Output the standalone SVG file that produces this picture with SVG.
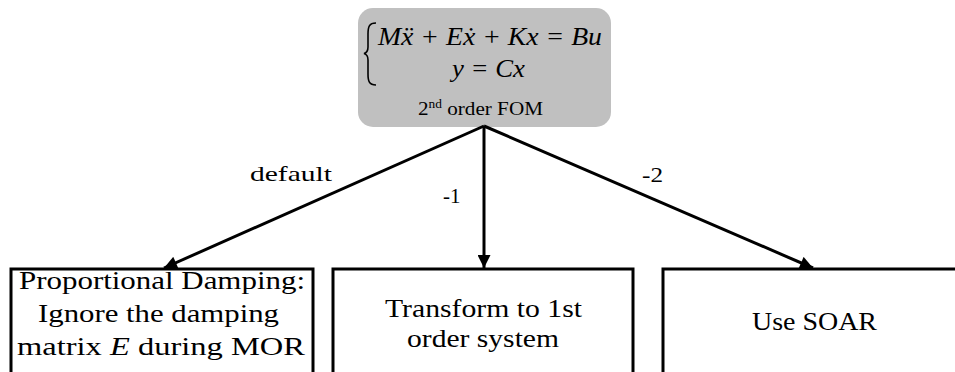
<svg xmlns="http://www.w3.org/2000/svg" width="955" height="372" viewBox="0 0 955 372">
  <style>
    .box { fill: #ffffff; stroke: #000000; stroke-width: 3; }
    .fom { fill: #c0c0c0; stroke: none; }
    .txt { font-family: "Liberation Serif", "Times New Roman", serif; fill: #000000; text-anchor: middle; font-size: 25px; }
    .lbl { font-family: "Liberation Serif", "Times New Roman", serif; fill: #000000; font-size: 21px; }
    .math { font-family: "Liberation Serif", "Times New Roman", serif; font-style: italic; fill: #000000; font-size: 25px; }
    .edge { stroke: #000000; stroke-width: 3; fill: none; marker-end: url(#arrow); }
  </style>
  <defs>
    <marker id="arrow" viewBox="0 0 10 10" refX="10" refY="5" markerUnits="userSpaceOnUse" markerWidth="15" markerHeight="13" orient="auto">
      <path d="M0,0 L10,5 L0,10 z" fill="#000000"/>
    </marker>
  </defs>
  <rect width="955" height="372" fill="#ffffff"/>

  <!-- second order full order model -->
  <g id="fom">
    <rect class="fom" x="358" y="8" width="253" height="119" rx="15" ry="15"/>
    <path d="M376,23 C369,23 368,27 368,34 L368,47 C368,51 366,53 364,53.5 C366,54 368,56 368,60 L368,74 C368,81 369,85 376,85" fill="none" stroke="#000" stroke-width="1.6"/>
    <text class="math" x="378" y="45" textLength="224" lengthAdjust="spacingAndGlyphs">Mẍ + Eẋ + Kx = Bu</text>
    <text class="math" x="452" y="77" textLength="73" lengthAdjust="spacingAndGlyphs">y = Cx</text>
    <text x="418" y="115" font-family="Liberation Serif, serif" font-size="19" fill="#000" textLength="125" lengthAdjust="spacingAndGlyphs">2<tspan font-size="12" dy="-7">nd</tspan><tspan dy="7"> order FOM</tspan></text>
  </g>

  <!-- branches -->
  <g id="connectors">
    <line class="edge" x1="484" y1="126" x2="164" y2="268"/>
    <line class="edge" x1="484" y1="126" x2="484" y2="268"/>
    <line class="edge" x1="484" y1="126" x2="813" y2="268"/>
    <text class="lbl" x="250" y="181" textLength="82" lengthAdjust="spacingAndGlyphs">default</text>
    <text class="lbl" x="443" y="203">-1</text>
    <text class="lbl" x="642" y="182" textLength="21" lengthAdjust="spacingAndGlyphs">-2</text>
  </g>

  <g id="proportional">
    <rect class="box" x="11" y="269" width="302" height="140"/>
    <text class="txt" x="162" y="289" textLength="286" lengthAdjust="spacingAndGlyphs">Proportional Damping:</text>
    <text class="txt" x="158.5" y="322" textLength="241" lengthAdjust="spacingAndGlyphs">Ignore the damping</text>
    <text class="txt" x="161" y="355" textLength="288" lengthAdjust="spacingAndGlyphs">matrix <tspan font-style="italic">E</tspan> during MOR</text>
  </g>

  <g id="first-order">
    <rect class="box" x="333" y="269" width="300" height="140"/>
    <text class="txt" x="483.5" y="317" textLength="197" lengthAdjust="spacingAndGlyphs">Transform to 1st</text>
    <text class="txt" x="483" y="347" textLength="152" lengthAdjust="spacingAndGlyphs">order system</text>
  </g>

  <g id="soar">
    <rect class="box" x="663" y="269" width="320" height="140"/>
    <text class="txt" x="814.5" y="330" textLength="125" lengthAdjust="spacingAndGlyphs">Use SOAR</text>
  </g>
</svg>
